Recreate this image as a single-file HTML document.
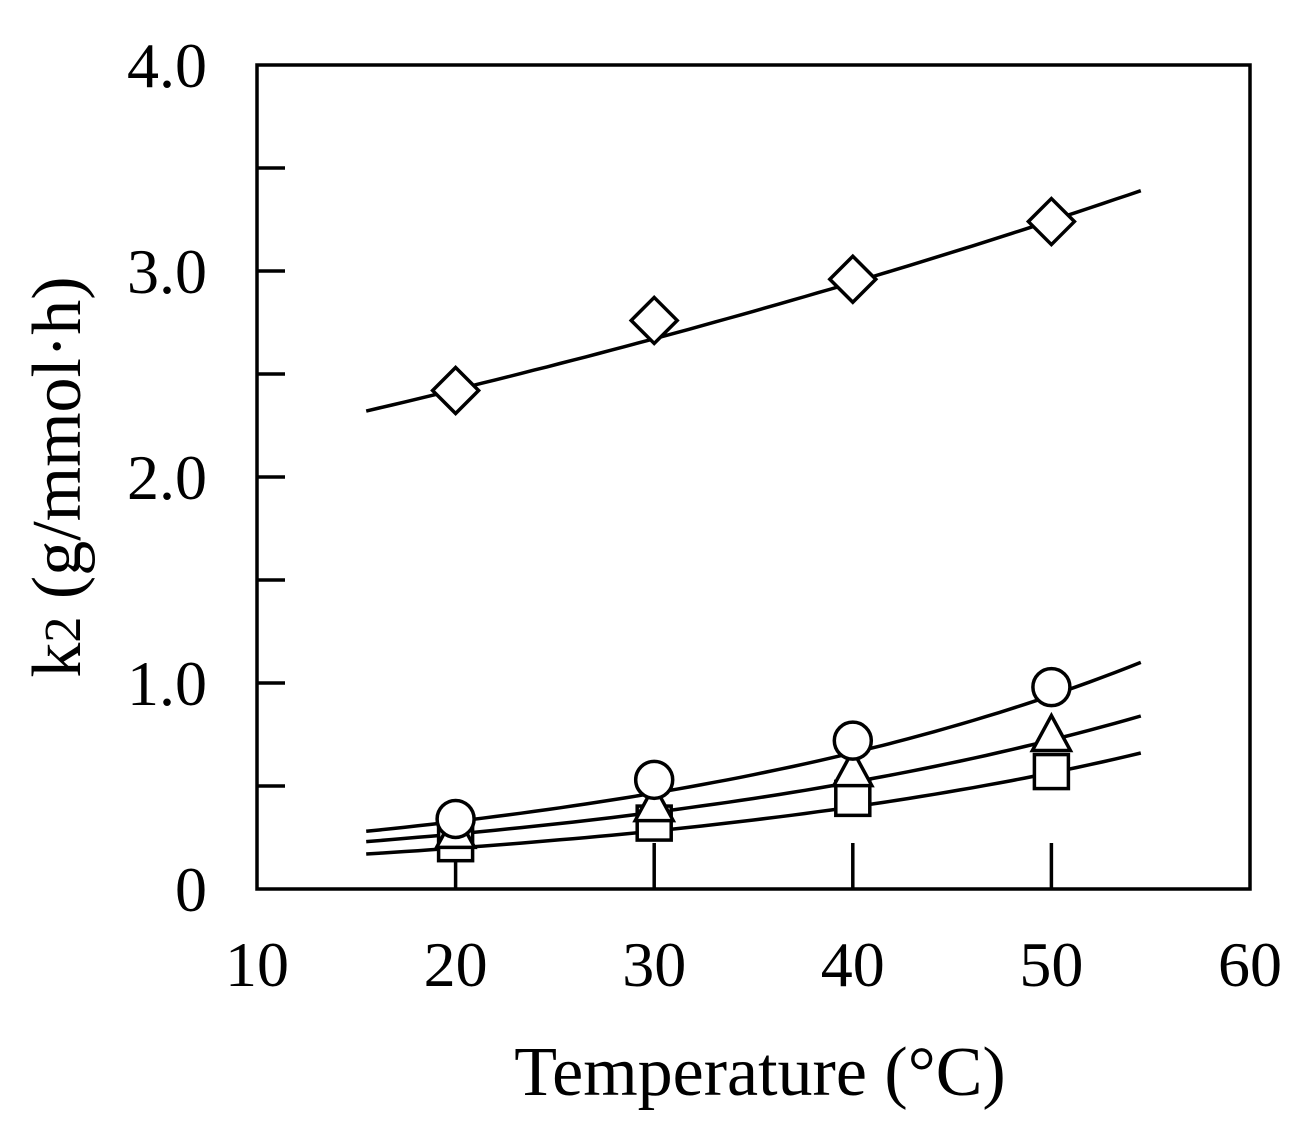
<!DOCTYPE html>
<html><head><meta charset="utf-8"><style>
body{margin:0;background:#fff;}
svg{display:block;font-family:"Liberation Serif",serif;}
</style></head><body>
<svg id="chart" width="1313" height="1133" viewBox="0 0 1313 1133">
<g id="axes"></g>
<g id="curves"></g>
<g id="marks"></g>
<text x="760" y="1095" font-size="70" text-anchor="middle">Temperature  (°C)</text>
<text transform="translate(80,477) rotate(-90)" font-size="70" text-anchor="middle">k<tspan font-size="52">2</tspan> (g/mmol·h)</text>
</svg>
<script>
const temps=[20,30,40,50];
const diamondVals=[2.42,2.76,2.96,3.24];
const circleVals=[0.34,0.53,0.72,0.98];
const triangleVals=[0.27,0.40,0.57,0.74];
const squareVals=[0.22,0.32,0.44,0.57];
const fitRange=[15.5,54.5];
const diamondFit=[2.32,3.39];
const circleFit=[0.28,1.10];
const triangleFit=[0.23,0.84];
const squareFit=[0.17,0.66];
const xTicks=[10,20,30,40,50,60];
const yTickLabels=["0","1.0","2.0","3.0","4.0"];
const yTickVals=[0,1,2,3,4];
const yMinor=[0.5,1.5,2.5,3.5];

const X0=257,X1=1250,Y0=889,Y1=65;
const sx=t=>X0+(t-10)/50*(X1-X0);
const sy=v=>Y0-v/4*(Y0-Y1);
const NS="http://www.w3.org/2000/svg";
function mk(tag,parent,attrs){const e=document.createElementNS(NS,tag);for(const k in attrs)e.setAttribute(k,attrs[k]);parent.appendChild(e);return e;}
const axes=document.getElementById('axes'),curves=document.getElementById('curves'),marks=document.getElementById('marks');

let fr=mk('rect',axes,{x:X0,y:Y1,width:X1-X0,height:Y0-Y1,fill:'none',stroke:'#000','stroke-width':3.5});


xTicks.forEach(t=>{
  if(t>10&&t<60){let l=mk('line',axes,{x1:sx(t),x2:sx(t),y1:Y0,y2:Y0-46,stroke:'#000','stroke-width':3.5});
  
  }
  let tx=mk('text',axes,{x:sx(t),y:986,'font-size':64,'text-anchor':'middle'});tx.textContent=t;
  
  
});
yTickVals.forEach((v,i)=>{
  if(v>0&&v<4){let l=mk('line',axes,{x1:X0,x2:X0+28,y1:sy(v),y2:sy(v),stroke:'#000','stroke-width':3.5});
  
  }
  let tx=mk('text',axes,{x:207,y:sy(v)+22,'font-size':64,'text-anchor':'end'});tx.textContent=yTickLabels[i];
  
  
});
yMinor.forEach(v=>{let l=mk('line',axes,{x1:X0,x2:X0+28,y1:sy(v),y2:sy(v),stroke:'#000','stroke-width':3.5});
  
  });

function curve(fit,name){
  const b=Math.log(fit[1]/fit[0])/(fitRange[1]-fitRange[0]);
  let d='';
  for(let i=0;i<=60;i++){const t=fitRange[0]+(fitRange[1]-fitRange[0])*i/60;const v=fit[0]*Math.exp(b*(t-fitRange[0]));d+=(i?'L':'M')+sx(t).toFixed(1)+','+sy(v).toFixed(1);}
  let p=mk('path',curves,{d:d,fill:'none',stroke:'#000','stroke-width':3.5});
  
  
}
curve(diamondFit,'diamond-fit-curve');
curve(circleFit,'circle-fit-curve');
curve(triangleFit,'triangle-fit-curve');
curve(squareFit,'square-fit-curve');

const st={fill:'#fff',stroke:'#000','stroke-width':3.5};
squareVals.forEach((v,i)=>{const x=sx(temps[i]),y=sy(v);
  let e=mk('rect',marks,Object.assign({x:x-17,y:y-17,width:34,height:34},st));
  
  });
triangleVals.forEach((v,i)=>{const x=sx(temps[i]),y=sy(v);
  let e=mk('polygon',marks,Object.assign({points:`${x},${y-21} ${x-19},${y+14} ${x+19},${y+14}`},st));
  
  });
circleVals.forEach((v,i)=>{const x=sx(temps[i]),y=sy(v);
  let e=mk('circle',marks,Object.assign({cx:x,cy:y,r:18.5},st));
  
  });
diamondVals.forEach((v,i)=>{const x=sx(temps[i]),y=sy(v);
  let e=mk('polygon',marks,Object.assign({points:`${x},${y-23} ${x+23},${y} ${x},${y+23} ${x-23},${y}`},st));
  
  });
</script>
</body></html>
